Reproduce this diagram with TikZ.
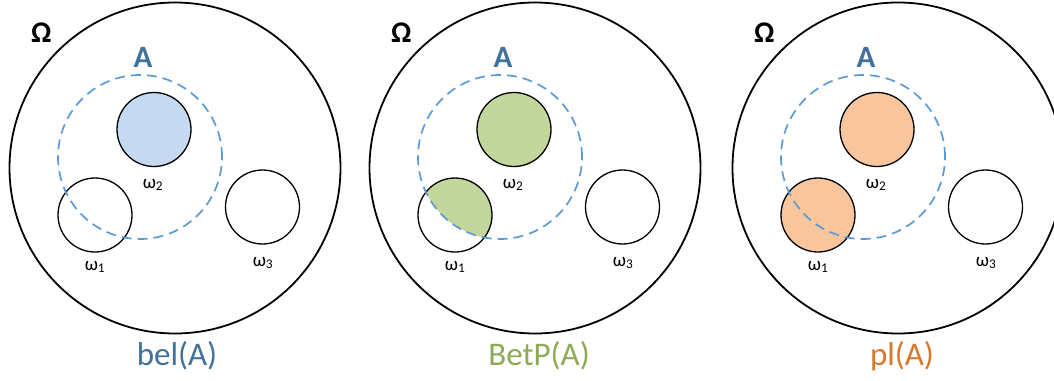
\documentclass[tikz,border=0pt]{standalone}
\usepackage{fontspec}
\setmainfont{Carlito}
\definecolor{belC}{HTML}{41719C}
\definecolor{betC}{HTML}{8FAA55}
\definecolor{plC}{HTML}{D9782D}
\definecolor{dashC}{HTML}{5B9BD5}
\definecolor{blueF}{HTML}{C5D9F1}
\definecolor{greenF}{HTML}{C3D69B}
\definecolor{orangeF}{HTML}{F9C59C}
\tikzset{
  universe/.style={circle, draw=black, line width=1.8pt, minimum size=331pt, inner sep=0pt, outer sep=0pt},
  elem/.style={circle, draw=black, line width=1.3pt, minimum size=74pt, inner sep=0pt, outer sep=0pt},
  setA/.style={circle, draw=dashC, line width=1.7pt, dash pattern=on 10pt off 6pt, minimum size=164pt, inner sep=0pt, outer sep=0pt},
  omlab/.style={anchor=base west, inner sep=0pt, font=\fontsize{30}{34}\selectfont\bfseries},
  alab/.style={anchor=base, inner sep=0pt, text=belC, font=\fontsize{31}{35}\selectfont\bfseries},
  wlab/.style={anchor=base, inner sep=0pt, font=\fontsize{19}{22}\selectfont},
  botlab/.style={anchor=base, inner sep=0pt, font=\fontsize{33}{38}\selectfont}
}
\begin{document}
\begin{tikzpicture}[x=1pt,y=-1pt]
\useasboundingbox (0,0) rectangle (1054,380);
\clip (0,0) rectangle (1054,380);

% ---------- panel 1: bel(A)
\begin{scope}
\node[universe] (U1) at (175,168) {};
\node[elem, fill=blueF] (P1w2) at (154,129.5) {};
\node[elem] (P1w1) at (95,215) {};
\node[elem] (P1w3) at (262.5,207) {};
\node[setA] (P1A) at (140,157) {};
\node[omlab] (P1om) at (31,42) {Ω};
\node[alab] (P1al) at (143,67) {A};
\node[wlab] (P1l2) at (153,188) {ω\textsubscript{2}};
\node[wlab] (P1l1) at (95,270) {ω\textsubscript{1}};
\node[wlab] (P1l3) at (263,266) {ω\textsubscript{3}};
\node[botlab, text=belC] (P1bot) at (177,365) {bel(A)};
\end{scope}

% ---------- panel 2: BetP(A)
\begin{scope}[xshift=360pt]
\node[universe] (U2) at (175,168) {};
\coordinate (C2w1) at (95,215);
\coordinate (C2A) at (140,157);
\begin{scope}
\clip (C2A) circle (82pt);
\fill[greenF] (C2w1) circle (37pt);
\end{scope}
\node[elem, fill=greenF] (P2w2) at (154,129.5) {};
\node[elem] (P2w1) at (C2w1) {};
\node[elem] (P2w3) at (262.5,207) {};
\node[setA] (P2A) at (C2A) {};
\node[omlab] (P2om) at (31,42) {Ω};
\node[alab] (P2al) at (143,67) {A};
\node[wlab] (P2l2) at (153,188) {ω\textsubscript{2}};
\node[wlab] (P2l1) at (95,270) {ω\textsubscript{1}};
\node[wlab] (P2l3) at (263,266) {ω\textsubscript{3}};
\node[botlab, text=betC] (P2bot) at (179,365) {BetP(A)};
\end{scope}

% ---------- panel 3: pl(A)
\begin{scope}[xshift=723pt]
\node[universe] (U3) at (175,168) {};
\node[elem, fill=orangeF] (P3w2) at (154,129.5) {};
\node[elem, fill=orangeF] (P3w1) at (95,215) {};
\node[elem] (P3w3) at (262.5,207) {};
\node[setA] (P3A) at (140,157) {};
\node[omlab] (P3om) at (31,42) {Ω};
\node[alab] (P3al) at (143,67) {A};
\node[wlab] (P3l2) at (153,188) {ω\textsubscript{2}};
\node[wlab] (P3l1) at (95,270) {ω\textsubscript{1}};
\node[wlab] (P3l3) at (263,266) {ω\textsubscript{3}};
\node[botlab, text=plC] (P3bot) at (179,365) {pl(A)};
\end{scope}
\end{tikzpicture}
\end{document}
